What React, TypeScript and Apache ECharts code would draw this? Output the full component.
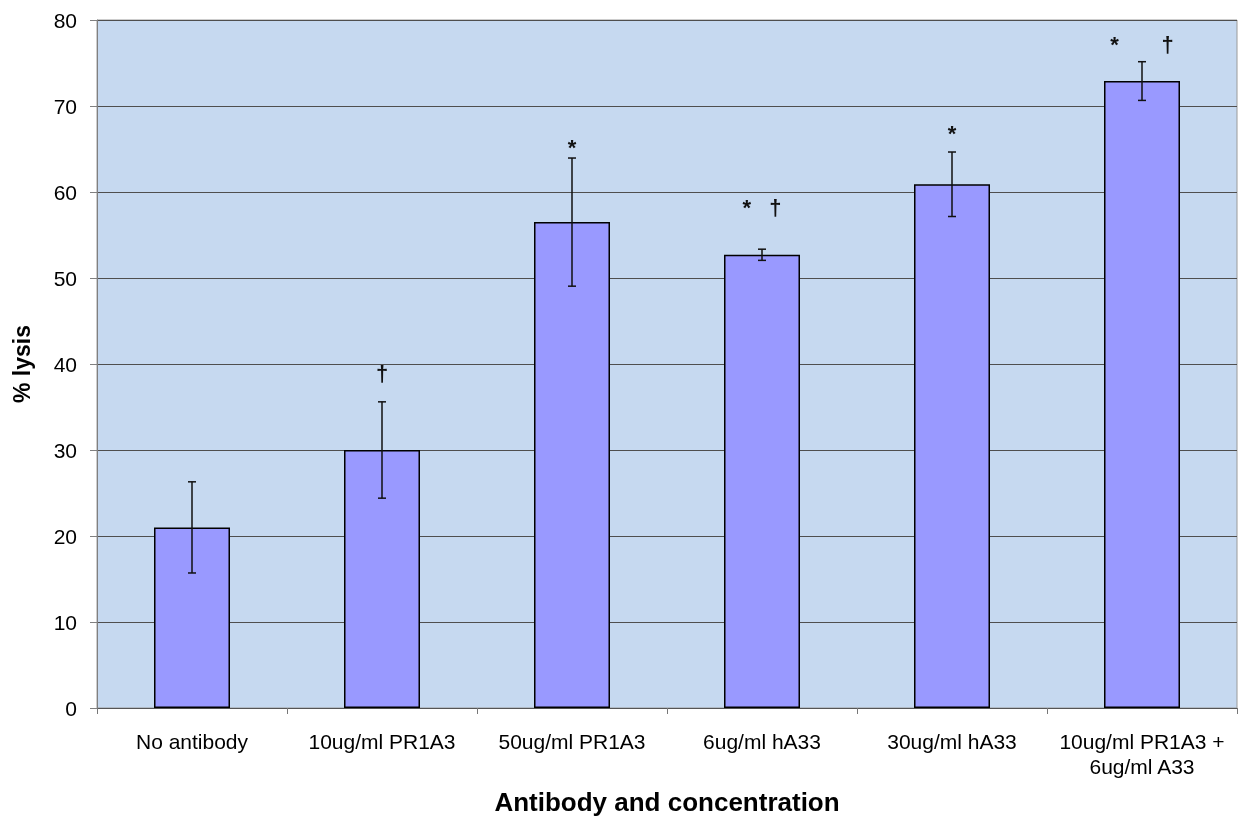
import React, { useEffect, useRef } from "react";
import * as echarts from "echarts";

const categories = [
  "No antibody",
  "10ug/ml PR1A3",
  "50ug/ml PR1A3",
  "6ug/ml hA33",
  "30ug/ml hA33",
  "10ug/ml PR1A3 +\n6ug/ml A33",
];
const lysis = [21.0, 30.0, 56.5, 52.7, 60.9, 72.9];
const errors = [5.3, 5.6, 7.45, 0.65, 3.75, 2.25];
const marks = ["", "†", "*", "*   †", "*", "*       †"];
const markLevels = [0, 38.9, 65.2, 58.2, 66.8, 77.2];
const yTicks = { min: 0, max: 80, interval: 10 };

export default function App() {
  const ref = useRef<HTMLDivElement>(null);
  useEffect(() => {
    if (!ref.current) return;
    const chart = echarts.init(ref.current, null, { renderer: "svg" });
    const font = "Arial, 'Liberation Sans', sans-serif";
    chart.setOption({
      animation: false,
      grid: {
        left: 97,
        right: 4,
        top: 20,
        bottom: 112,
        outerBoundsMode: "none",
        containLabel: false,
        show: true,
        backgroundColor: "#C6D9F0",
        borderColor: "#9a9a9a",
        borderWidth: 1,
      },
      xAxis: {
        type: "category",
        data: categories,
        name: "Antibody and concentration",
        nameLocation: "middle",
        nameGap: 81,
        nameTextStyle: { fontFamily: font, fontSize: 26, fontWeight: "bold", color: "#000" },
        axisLine: { lineStyle: { color: "#555", width: 1 } },
        axisTick: { show: true, length: 6, lineStyle: { color: "#777" } },
        axisLabel: { margin: 21, fontFamily: font, fontSize: 21, color: "#000", lineHeight: 25, interval: 0 },
      },
      yAxis: {
        type: "value",
        min: yTicks.min,
        max: yTicks.max,
        interval: yTicks.interval,
        name: "% lysis",
        nameLocation: "middle",
        nameGap: 64,
        nameRotate: 90,
        nameTextStyle: { fontFamily: font, fontSize: 23, fontWeight: "bold", color: "#000" },
        axisLine: { show: true, lineStyle: { color: "#808080", width: 1 } },
        axisTick: { show: true, inside: false, length: 7, lineStyle: { color: "#808080" } },
        axisLabel: { margin: 20, fontFamily: font, fontSize: 21, color: "#000" },
        splitLine: { show: true, lineStyle: { color: "#4f4f4f", width: 1 } },
      },
      series: [
        {
          type: "bar",
          data: lysis,
          barWidth: "40%",
          itemStyle: { color: "#9999FF", borderColor: "#000", borderWidth: 1.5 },
          z: 2,
        },
        {
          type: "custom",
          z: 3,
          data: lysis.map((v, i) => [i, v - errors[i], v + errors[i]]),
          renderItem: (params: any, api: any) => {
            const i = api.value(0);
            const lo = api.coord([i, api.value(1)]);
            const hi = api.coord([i, api.value(2)]);
            const cap = 4;
            const style = { stroke: "#111", lineWidth: 1.5 };
            return {
              type: "group",
              children: [
                { type: "line", shape: { x1: hi[0], y1: hi[1], x2: lo[0], y2: lo[1] }, style },
                { type: "line", shape: { x1: hi[0] - cap, y1: hi[1], x2: hi[0] + cap, y2: hi[1] }, style },
                { type: "line", shape: { x1: lo[0] - cap, y1: lo[1], x2: lo[0] + cap, y2: lo[1] }, style },
              ],
            };
          },
        },
        {
          type: "custom",
          z: 4,
          data: markLevels.map((v, i) => [i, v]),
          renderItem: (params: any, api: any) => {
            const i = api.value(0);
            const p = api.coord([i, api.value(1)]);
            const txt = marks[i];
            if (!txt) return null;
            return {
              type: "text",
              x: p[0],
              y: p[1],
              style: {
                text: txt,
                fontFamily: font,
                fontSize: 22,
                fontWeight: "bold",
                fill: "#111",
                align: "center",
                verticalAlign: "middle",
              },
            };
          },
        },
      ],
    });
    return () => chart.dispose();
  }, []);
  return (
    <div
      ref={ref}
      style={{ position: "fixed", left: 0, top: 0, width: 1241, height: 820 }}
    />
  );
}
